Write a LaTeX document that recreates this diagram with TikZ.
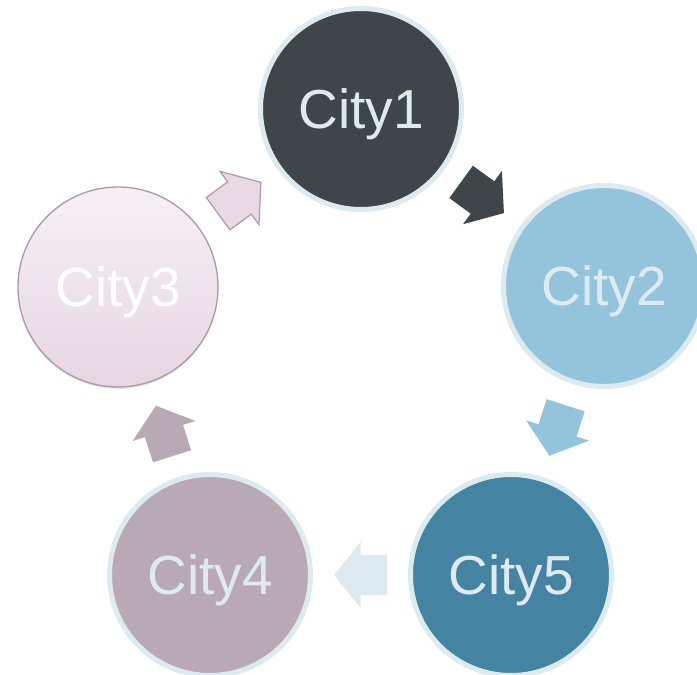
\documentclass[tikz,border=0pt]{standalone}
\usepackage{fontspec}
\setmainfont{Liberation Sans}
\usetikzlibrary{shadows}
\definecolor{cOne}{HTML}{3E4649}
\definecolor{cTwo}{HTML}{93C4DB}
\definecolor{cFive}{HTML}{4583A3}
\definecolor{cFour}{HTML}{B9A9B4}
\definecolor{cThreeTop}{HTML}{F6F0F5}
\definecolor{cThreeBot}{HTML}{E6D6E2}
\definecolor{cThreeLine}{HTML}{AE97A8}
\definecolor{ring}{HTML}{DDEBF1}
\definecolor{arrowOne}{HTML}{E8D9E5}
\tikzset{
  city/.style={circle, minimum size=201pt, inner sep=0pt, line width=5pt, draw=ring,
    text=ring, font=\fontsize{55}{60}\selectfont, text height=39.6pt, text depth=0pt},
  barrow/.pic={\path[#1] (-26.5,-20) -- (0,-20) -- (0,-33) -- (26.5,0) -- (0,33) -- (0,20) -- (-26.5,20) -- cycle;},
  onpath/.style={pos=0.5, sloped, allow upside down}
}
\begin{document}
\begin{tikzpicture}[x=1pt,y=-1pt]
\useasboundingbox (0,0) rectangle (697,675);
\clip (0,0) rectangle (697,675);
\fill[white] (0,0) rectangle (697,675);
\node[city, fill=cOne] (city1) at (361,109) {City1};
\node[city, fill=cTwo] (city2) at (604,286) {City2};
\node[city, fill=cFive] (city5) at (511,575) {City5};
\node[city, fill=cFour] (city4) at (210,575) {City4};
\node[city, line width=1.3pt, minimum size=200pt, draw=cThreeLine, text=white,
  top color=cThreeTop, bottom color=cThreeBot,
  drop shadow={opacity=0.18, shadow xshift=0pt, shadow yshift=-2pt}] (city3) at (118,287) {City3};
\path (city3.center) -- (city1.center) pic[onpath]{barrow={fill=arrowOne, draw=cThreeLine, line width=1.2pt, line join=miter}};
\path (city1.center) -- (city2.center) pic[onpath]{barrow={fill=cOne}};
\path (city2.center) -- (city5.center) pic[onpath]{barrow={fill=cTwo}};
\path (city5.center) -- (city4.center) pic[onpath]{barrow={fill=ring}};
\path (city4.center) -- (city3.center) pic[onpath]{barrow={fill=cFour}};
\end{tikzpicture}
\end{document}
